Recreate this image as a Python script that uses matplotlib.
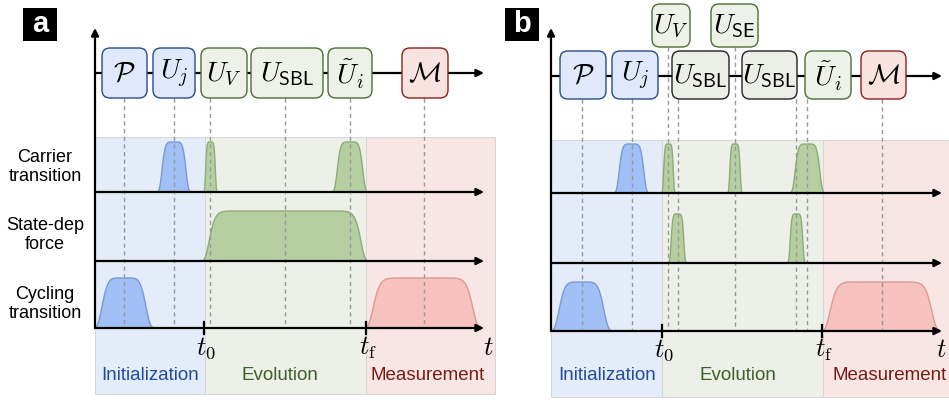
import numpy as np
import matplotlib
matplotlib.use("Agg")
import matplotlib.pyplot as plt
from matplotlib.patches import FancyBboxPatch, Rectangle, Polygon

plt.rcParams['mathtext.fontset'] = 'cm'
plt.rcParams['font.family'] = ['Liberation Sans', 'DejaVu Sans']

# ---------------- data (pixel-based schematic layout) ----------------
# Panel a
boxes_a_labels = [r'$\mathcal{P}$', r'$U_j$', r'$U_V$', r'$U_{\mathsf{SBL}}$', r'$\tilde{U}_i$', r'$\mathcal{M}$']
boxes_a_x0 = [102, 153, 201, 251, 328, 402]
boxes_a_x1 = [147, 195, 247, 323, 372, 448]
boxes_a_kind = ['blue', 'blue', 'green', 'green', 'green', 'red']
dash_a_x = [124, 174, 210, 285, 350, 424]

carrier_a_start = [158, 204, 333]
carrier_a_end = [190, 217, 367]
carrier_a_kind = ['blue', 'green', 'green']
force_a_start = [203]
force_a_end = [367]
force_a_kind = ['green']
cycling_a_start = [95, 366]
cycling_a_end = [153, 480]
cycling_a_kind = ['blue', 'red']

# Panel b
boxes_b_labels = [r'$\mathcal{P}$', r'$U_j$', r'$U_{\mathsf{SBL}}$', r'$U_{\mathsf{SBL}}$', r'$\tilde{U}_i$', r'$\mathcal{M}$']
boxes_b_x0 = [560, 612, 672, 742, 805, 861]
boxes_b_x1 = [606, 658, 729, 797, 851, 906]
boxes_b_kind = ['blue', 'blue', 'gray', 'gray', 'green', 'red']
upper_b_labels = [r'$U_V$', r'$U_{\mathsf{SE}}$']
upper_b_x0 = [652, 711]
upper_b_x1 = [690, 758]
dash_b_x = [582, 632, 678, 796, 807, 882]
dash_b_upper_x = [668, 735]

carrier_b_start = [615, 662, 728, 791]
carrier_b_end = [648, 675, 742, 824]
carrier_b_kind = ['blue', 'green', 'green', 'green']
force_b_start = [669, 788]
force_b_end = [686, 805]
force_b_kind = ['green', 'green']
cycling_b_start = [552, 823]
cycling_b_end = [611, 939]
cycling_b_kind = ['blue', 'red']

row_labels = ['Carrier\ntransition', 'State-dep\nforce', 'Cycling\ntransition']
phase_labels = ['Initialization', 'Evolution', 'Measurement']
time_labels = [r'$t_0$', r'$t_\mathrm{f}$', r'$t$']

# ---------------- styles ----------------
box_fill = {'blue': '#dfe9fb', 'green': '#edf1e8', 'gray': '#eceee8', 'red': '#f8e3e1'}
box_edge = {'blue': '#284b8a', 'green': '#4b6e33', 'gray': '#222222', 'red': '#8a1f1c'}
bg_fill = ['#e4ecf9', '#edf0e9', '#f7e6e4']
pulse_fill = {'blue': '#9fbff5', 'green': '#b6cfa1', 'red': '#f7c2bd'}
pulse_edge = {'blue': '#7a9ad3', 'green': '#8eab78', 'red': '#da9b96'}
phase_col = ['#1f4d9a', '#3b6125', '#7b1a14']

fig = plt.figure(figsize=(9.49, 4.03), dpi=100)
ax = fig.add_axes([0, 0, 1, 1])
ax.set_xlim(0, 949)
ax.set_ylim(403, 0)
ax.axis('off')


def arrow(x0, y0, x1, y1):
    ax.annotate('', xy=(x1, y1), xytext=(x0, y0),
                arrowprops=dict(arrowstyle='-|>', lw=1.6, color='black',
                                mutation_scale=11, shrinkA=0, shrinkB=0),
                zorder=6)


def pulse(a, b, base, h, kind):
    # super-Gaussian envelope spanning [a, b]
    half = (b - a) / 2.0
    p = max(6.0, 4.0 + (half / 20.0) ** 2)
    s = half / 4.6 ** (1.0 / p)
    c = (a + b) / 2.0
    x = np.linspace(a, b, 500)
    y = base - h * np.exp(-(np.abs(x - c) / s) ** p)
    pts = np.vstack([[a, base], np.column_stack([x, y]), [b, base]])
    ax.add_patch(Polygon(pts, closed=True, facecolor=pulse_fill[kind],
                         edgecolor=pulse_edge[kind], lw=1.0, zorder=3))


def box(x0, x1, y0, y1, label, kind):
    ax.add_patch(FancyBboxPatch((x0, y0), x1 - x0, y1 - y0,
                                boxstyle="round,pad=0,rounding_size=8",
                                facecolor=box_fill[kind], edgecolor=box_edge[kind],
                                lw=1.0, zorder=7))
    ax.text((x0 + x1) / 2, (y0 + y1) / 2 + 1, label, ha='center', va='center',
            fontsize=20, zorder=8)


def panel(P):
    vx = P['vx']
    for (xa, xb), c in zip(P['bg_x'], bg_fill):
        ax.add_patch(Rectangle((xa, P['bg_y0']), xb - xa, P['bg_y1'] - P['bg_y0'],
                               facecolor=c, edgecolor='#d6d6d6', lw=0.7, zorder=0))
    for (starts, ends, kinds), base in zip(P['rows'], P['bases']):
        for a, b, k in zip(starts, ends, kinds):
            pulse(a, b, base, P['amp'], k)
    for x in P['dash']:
        ax.plot([x, x], [P['box_y1'], P['bases'][2]], color='#999999', lw=1.0,
                ls=(0, (3, 2.5)), zorder=4)
    for x in P.get('dash_upper', []):
        ax.plot([x, x], [P['upper_y1'], P['bases'][2]], color='#999999', lw=1.0,
                ls=(0, (3, 2.5)), zorder=4)
    arrow(vx, P['bases'][2], vx, P['vtop'])
    arrow(vx, P['line_y'], P['xend'], P['line_y'])
    for base in P['bases']:
        arrow(vx, base, P['xend'], base)
    for tx in P['ticks']:
        ax.plot([tx, tx], [P['bases'][2] - 6, P['bases'][2] + 6], color='black', lw=1.6, zorder=6)
    for x0, x1, lab, k in zip(P['bx0'], P['bx1'], P['blab'], P['bkind']):
        box(x0, x1, P['box_y0'], P['box_y1'], lab, k)
    for x0, x1, lab in zip(P.get('ux0', []), P.get('ux1', []), P.get('ulab', [])):
        box(x0, x1, P['upper_y0'], P['upper_y1'], lab, 'green')
    for tx, lab in zip(P['ticks'] + [P['t_x']], time_labels):
        ax.text(tx + 2, P['t_y'], lab, ha='center', va='center', fontsize=19, zorder=8)
    for px, lab, c in zip(P['phase_x'], phase_labels, phase_col):
        ax.text(px, P['phase_y'], lab, ha='center', va='center', fontsize=13.5,
                color=c, zorder=8)
    ax.add_patch(Rectangle((P['lx'], 8), 34, 33, facecolor='black', zorder=9))
    ax.text(P['lx'] + 17, 24, P['letter'], ha='center', va='center', fontsize=21,
            fontweight='bold', color='white', zorder=10)


panel_a = dict(vx=95, vtop=28, xend=484, line_y=73, bases=[192, 261, 328], amp=50,
               bg_x=[(95, 205), (205, 366), (366, 495)], bg_y0=137, bg_y1=394,
               rows=[(carrier_a_start, carrier_a_end, carrier_a_kind),
                     (force_a_start, force_a_end, force_a_kind),
                     (cycling_a_start, cycling_a_end, cycling_a_kind)],
               dash=dash_a_x, box_y0=48, box_y1=98,
               bx0=boxes_a_x0, bx1=boxes_a_x1, blab=boxes_a_labels, bkind=boxes_a_kind,
               ticks=[204, 366], t_x=486, t_y=348,
               phase_x=[150, 280, 428], phase_y=375, lx=23, letter='a')

panel_b = dict(vx=551, vtop=28, xend=942, line_y=76, bases=[193, 263, 331], amp=49,
               bg_x=[(551, 662), (662, 823), (823, 949)], bg_y0=140, bg_y1=397,
               rows=[(carrier_b_start, carrier_b_end, carrier_b_kind),
                     (force_b_start, force_b_end, force_b_kind),
                     (cycling_b_start, cycling_b_end, cycling_b_kind)],
               dash=dash_b_x, dash_upper=dash_b_upper_x, box_y0=51, box_y1=99,
               upper_y0=4, upper_y1=47, ux0=upper_b_x0, ux1=upper_b_x1, ulab=upper_b_labels,
               bx0=boxes_b_x0, bx1=boxes_b_x1, blab=boxes_b_labels, bkind=boxes_b_kind,
               ticks=[662, 822], t_x=939, t_y=350,
               phase_x=[607, 738, 890], phase_y=376, lx=505, letter='b')

panel(panel_a)
panel(panel_b)

for lab, y in zip(row_labels, [167, 235, 304]):
    ax.text(45, y, lab, ha='center', va='center', fontsize=13, linespacing=1.2)

fig.savefig('out.png', dpi=100)
